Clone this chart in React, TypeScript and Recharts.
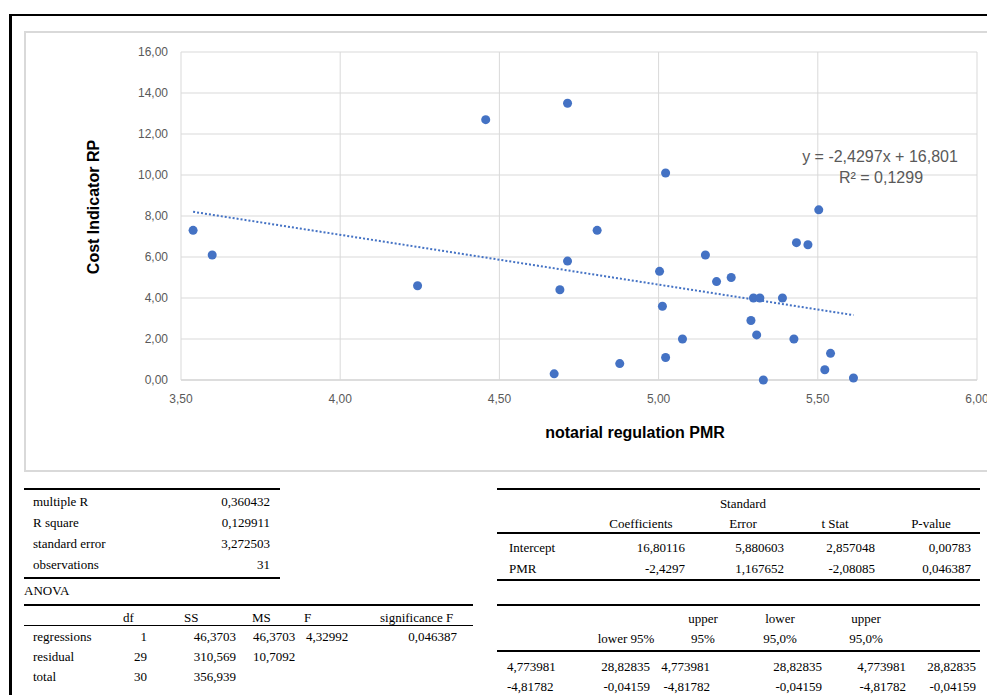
import React from 'react';
import { ScatterChart, Scatter, XAxis, YAxis, CartesianGrid } from 'recharts';

// scatter data: notarial regulation PMR vs cost indicator RP
const pmr = [
  3.538, 3.598, 4.243, 4.457, 4.714, 4.69, 4.672, 4.714, 5.022, 4.807, 5.003,
  5.012, 5.075, 4.878, 5.022, 5.147, 5.182, 5.228, 5.298, 5.318, 5.389, 5.29,
  5.308, 5.329, 5.425, 5.433, 5.469, 5.503, 5.54, 5.522, 5.612,
];
const costRP = [
  7.3, 6.1, 4.6, 12.7, 13.5, 4.4, 0.3, 5.8, 10.1, 7.3, 5.3,
  3.6, 2.0, 0.8, 1.1, 6.1, 4.8, 5.0, 4.0, 4.0, 4.0, 2.9,
  2.2, 0.0, 2.0, 6.7, 6.6, 8.3, 1.3, 0.5, 0.1,
];
const xTicks = [3.5, 4, 4.5, 5, 5.5, 6];
const yTicks = [0, 2, 4, 6, 8, 10, 12, 14, 16];

// linear trendline as printed on the chart
const slope = -2.4297;
const intercept = 16.801;
const equationText = 'y = -2,4297x + 16,801';
const rSquaredText = 'R² = 0,1299';

// regression output tables
const statLabels = ['multiple R', 'R square', 'standard error', 'observations'];
const statValues = ['0,360432', '0,129911', '3,272503', '31'];

const anovaHeaders = ['df', 'SS', 'MS', 'F', 'significance F'];
const anovaRows = ['regressions', 'residual', 'total'];
const anovaDf = ['1', '29', '30'];
const anovaSS = ['46,3703', '310,569', '356,939'];
const anovaMS = ['46,3703', '10,7092', ''];
const anovaF = ['4,32992', '', ''];
const anovaSig = ['0,046387', '', ''];

const coefRows = ['Intercept', 'PMR'];
const coefValues = ['16,80116', '-2,4297'];
const coefStdErr = ['5,880603', '1,167652'];
const coefT = ['2,857048', '-2,08085'];
const coefP = ['0,00783', '0,046387'];

const lower95 = ['4,773981', '-4,81782'];
const upper95 = ['28,82835', '-0,04159'];

const points = pmr.map((x, i) => ({ x, y: costRP[i] }));
const xMin = Math.min(...pmr);
const xMax = Math.max(...pmr);
const trend = [
  { x: xMin, y: slope * xMin + intercept },
  { x: xMax, y: slope * xMax + intercept },
];

const fmt = (v: number) => v.toFixed(2).replace('.', ',');

const BLUE = '#4472C4';
const GRID = '#d9d9d9';
const SANS = '"Liberation Sans", Arial, sans-serif';
const SERIF = '"Liberation Serif", "Times New Roman", serif';

type TxtProps = { x: number; y: number; align?: 'left' | 'right' | 'center'; children: React.ReactNode };

// x is the left edge, right edge or centre depending on align; y is the text centre
const Txt = ({ x, y, align = 'left', children }: TxtProps) => {
  const w = 200;
  const left = align === 'left' ? x : align === 'right' ? x - w : x - w / 2;
  return (
    <div
      style={{
        position: 'absolute',
        left,
        top: y - 8,
        width: w,
        height: 16,
        lineHeight: '16px',
        textAlign: align,
        whiteSpace: 'nowrap',
      }}
    >
      {children}
    </div>
  );
};

const Rule = ({ x1, x2, y, h = 2 }: { x1: number; x2: number; y: number; h?: number }) => (
  <div style={{ position: 'absolute', left: x1, top: y, width: x2 - x1, height: h, background: '#000' }} />
);

const YTitle = (props: any) => {
  const { x, y, height } = props.viewBox;
  const cx = x + 12;
  const cy = y + height / 2 - 9;
  return (
    <text
      x={cx}
      y={cy}
      transform={`rotate(-90, ${cx}, ${cy})`}
      textAnchor="middle"
      dominantBaseline="central"
      fontFamily={SANS}
      fontSize={16}
      fontWeight={700}
      fill="#000"
    >
      Cost Indicator RP
    </text>
  );
};

const XTitle = (props: any) => {
  const { x, y, width } = props.viewBox;
  return (
    <text
      x={x + width / 2 + 56}
      y={y + 52}
      textAnchor="middle"
      dominantBaseline="central"
      fontFamily={SANS}
      fontSize={16}
      fontWeight={700}
      fill="#000"
    >
      notarial regulation PMR
    </text>
  );
};

export default function App() {
  const tickStyle = { fill: '#595959', fontSize: 12, fontFamily: SANS };
  const rowsTop = [502, 523, 544, 565];
  const anovaY = [637, 657, 677];
  const coefY = [548, 569];

  return (
    <div
      style={{
        position: 'absolute',
        left: 0,
        top: 0,
        width: 987,
        height: 695,
        overflow: 'hidden',
        background: '#fff',
        fontFamily: SERIF,
        fontSize: 13,
        color: '#000',
      }}
    >
      {/* sheet frame */}
      <div
        style={{
          position: 'absolute',
          left: 9,
          top: 14,
          width: 1000,
          height: 700,
          borderTop: '2px solid #000',
          borderLeft: '3px solid #000',
        }}
      />
      {/* chart area border */}
      <div
        style={{
          position: 'absolute',
          left: 24,
          top: 31,
          width: 1000,
          height: 437,
          border: `2px solid ${GRID}`,
          borderRight: 'none',
        }}
      />
      <div style={{ position: 'absolute', left: 25, top: 32 }}>
        <ScatterChart width={962} height={438} margin={{ top: 20, right: 10, bottom: 30, left: 56 }}>
          <CartesianGrid stroke={GRID} strokeWidth={1} />
          <XAxis
            type="number"
            dataKey="x"
            domain={[3.5, 6]}
            ticks={xTicks}
            tickFormatter={fmt}
            axisLine={{ stroke: GRID, strokeWidth: 1.5 }}
            tickLine={false}
            tickSize={0}
            tickMargin={14}
            tick={tickStyle}
            height={60}
            interval={0}
            allowDataOverflow
            label={<XTitle />}
          />
          <YAxis
            type="number"
            dataKey="y"
            domain={[0, 16]}
            ticks={yTicks}
            tickFormatter={fmt}
            axisLine={false}
            tickLine={false}
            tickSize={0}
            tickMargin={13}
            tick={tickStyle}
            width={100}
            interval={0}
            label={<YTitle />}
          />
          <Scatter data={points} fill={BLUE} isAnimationActive={false} />
          <Scatter
            data={trend}
            fill="none"
            line={{ stroke: BLUE, strokeWidth: 2, strokeDasharray: '2 2' }}
            shape={() => <g />}
            isAnimationActive={false}
          />
        </ScatterChart>
      </div>

      {/* trendline equation */}
      <div style={{ fontFamily: SANS, fontSize: 16, color: '#595959' }}>
        <Txt x={880} y={157} align="center">{equationText}</Txt>
        <Txt x={881} y={178} align="center">{rSquaredText}</Txt>
      </div>

      {/* regression statistics */}
      <Rule x1={24} x2={280} y={488} />
      {statLabels.map((l, i) => (
        <React.Fragment key={l}>
          <Txt x={33} y={rowsTop[i]}>{l}</Txt>
          <Txt x={270} y={rowsTop[i]} align="right">{statValues[i]}</Txt>
        </React.Fragment>
      ))}
      <Rule x1={24} x2={280} y={577} />

      {/* ANOVA */}
      <Txt x={24} y={591}>ANOVA</Txt>
      <Rule x1={24} x2={473} y={604} />
      {anovaHeaders.map((h, i) => (
        <Txt key={h} x={[123, 184, 252, 304, 380][i]} y={618}>{h}</Txt>
      ))}
      <Rule x1={24} x2={473} y={625} h={1} />
      {anovaRows.map((r, i) => (
        <React.Fragment key={r}>
          <Txt x={33} y={anovaY[i]}>{r}</Txt>
          <Txt x={147} y={anovaY[i]} align="right">{anovaDf[i]}</Txt>
          <Txt x={236} y={anovaY[i]} align="right">{anovaSS[i]}</Txt>
          <Txt x={253} y={anovaY[i]}>{anovaMS[i]}</Txt>
          <Txt x={306} y={anovaY[i]}>{anovaF[i]}</Txt>
          <Txt x={457} y={anovaY[i]} align="right">{anovaSig[i]}</Txt>
        </React.Fragment>
      ))}

      {/* coefficients */}
      <Rule x1={497} x2={980} y={488} />
      <Txt x={743} y={504} align="center">Standard</Txt>
      <Txt x={641} y={524} align="center">Coefficients</Txt>
      <Txt x={743} y={524} align="center">Error</Txt>
      <Txt x={835} y={524} align="center">t Stat</Txt>
      <Txt x={931} y={524} align="center">P-value</Txt>
      <Rule x1={497} x2={980} y={532} />
      {coefRows.map((r, i) => (
        <React.Fragment key={r}>
          <Txt x={509} y={coefY[i]}>{r}</Txt>
          <Txt x={685} y={coefY[i]} align="right">{coefValues[i]}</Txt>
          <Txt x={784} y={coefY[i]} align="right">{coefStdErr[i]}</Txt>
          <Txt x={875} y={coefY[i]} align="right">{coefT[i]}</Txt>
          <Txt x={971} y={coefY[i]} align="right">{coefP[i]}</Txt>
        </React.Fragment>
      ))}
      <Rule x1={497} x2={980} y={579} />

      {/* confidence intervals */}
      <Rule x1={497} x2={980} y={604} />
      <Txt x={703} y={619} align="center">upper</Txt>
      <Txt x={780} y={619} align="center">lower</Txt>
      <Txt x={866} y={619} align="center">upper</Txt>
      <Txt x={626} y={639} align="center">lower 95%</Txt>
      <Txt x={703} y={639} align="center">95%</Txt>
      <Txt x={780} y={639} align="center">95,0%</Txt>
      <Txt x={866} y={639} align="center">95,0%</Txt>
      <Rule x1={497} x2={980} y={650} />
      {[667, 687].map((y, i) => (
        <React.Fragment key={y}>
          <Txt x={507} y={y}>{lower95[i]}</Txt>
          <Txt x={650} y={y} align="right">{upper95[i]}</Txt>
          <Txt x={710} y={y} align="right">{lower95[i]}</Txt>
          <Txt x={822} y={y} align="right">{upper95[i]}</Txt>
          <Txt x={906} y={y} align="right">{lower95[i]}</Txt>
          <Txt x={976} y={y} align="right">{upper95[i]}</Txt>
        </React.Fragment>
      ))}
    </div>
  );
}
